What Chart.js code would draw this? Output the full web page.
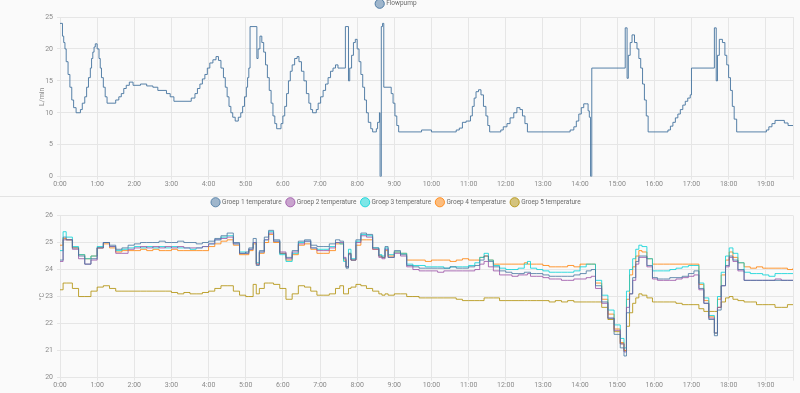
<!DOCTYPE html>
<html>
<head>
<meta charset="utf-8">
<script src="https://cdn.jsdelivr.net/npm/chart.js@4/dist/chart.umd.min.js"></script>
<style>
  html, body { margin: 0; padding: 0; background: #fafafa; }
  .box { width: 800px; position: relative; }
  #top { height: 196px; border-bottom: 1px solid #e3e3e3; }
  #bottom { height: 196px; }
</style>
</head>
<body>
<div class="box" id="top"><canvas id="pumpChart"></canvas></div>
<div class="box" id="bottom"><canvas id="tempChart"></canvas></div>
<script>
// time in minutes since 0:00
const pumpTimes = [0, 4, 6, 8, 10, 13, 16, 19, 22, 26, 33, 36, 40, 43, 46, 49, 51, 53, 55, 57, 60, 63, 65, 67, 70, 73, 76, 90, 95, 99, 103, 107, 112, 118, 130, 140, 150, 158, 172, 178, 184, 212, 218, 222, 226, 230, 234, 238, 242, 247, 252, 256, 260, 264, 267, 270, 273, 276, 279, 283, 288, 292, 295, 298, 301, 303, 305, 307, 318, 320, 323, 326, 329, 332, 335, 338, 341, 344, 347, 350, 357, 360, 363, 366, 369, 372, 375, 379, 383, 386, 390, 394, 398, 402, 405, 408, 414, 417, 421, 425, 429, 433, 437, 441, 445, 449, 461, 466, 468, 471, 474, 477, 480, 483, 486, 489, 492, 495, 498, 502, 505, 511, 513, 516, 517, 519, 521, 523, 535, 538, 541, 544, 547, 584, 600, 640, 645, 650, 656, 663, 666, 669, 672, 676, 680, 684, 688, 691, 694, 712, 716, 722, 727, 733, 738, 743, 747, 751, 755, 824, 830, 834, 838, 842, 846, 850, 853, 855, 857, 859, 913, 916, 918, 921, 924, 928, 932, 935, 938, 941, 944, 947, 950, 982, 986, 990, 994, 998, 1002, 1006, 1010, 1014, 1018, 1020, 1057, 1060, 1062, 1065, 1070, 1074, 1077, 1080, 1083, 1086, 1089, 1093, 1141, 1145, 1150, 1155, 1170, 1176, 1184];
const pumpValues = [24, 22, 21, 20, 18, 16, 14, 12, 10.8, 10, 10.5, 11.5, 12.5, 14, 15.5, 17, 18.5, 19.5, 20.3, 20.8, 20, 18.5, 17, 15.5, 14, 12.5, 11.5, 12, 12.5, 13, 13.8, 14.3, 14.8, 14.3, 14.5, 14.2, 14, 13.5, 13, 12.5, 11.8, 12.3, 13, 13.8, 14.5, 15.3, 16, 17, 17.8, 18.3, 18.8, 18.2, 17, 15.5, 14, 12.5, 11, 10, 9.3, 8.7, 9.3, 10, 11, 12.5, 14, 15.5, 17, 23.5, 18.5, 20, 22, 21, 19.5, 17.5, 15.5, 13.5, 11.5, 9.5, 8.3, 7.5, 8.3, 9.5, 11, 13, 15, 16.5, 17.5, 18.5, 18.8, 18, 16.5, 15, 13, 11.5, 10.5, 10, 10.5, 11.5, 12.5, 13.5, 14.5, 15.5, 16.5, 17, 17.5, 17, 23.5, 15, 17, 19, 21, 21.5, 20, 18, 16, 14, 12, 10, 8.5, 7.5, 7, 7.5, 8.5, 10, 0, 23.5, 24, 14, 13, 11.5, 9.5, 8, 7, 7.3, 7, 7.3, 7.6, 8.5, 8.7, 9.5, 11, 12.3, 13.3, 13.6, 12.8, 11, 9.5, 8, 7, 7.3, 7.8, 8.3, 9.2, 10, 10.8, 10.5, 9.5, 8.3, 7, 7.3, 7.8, 8.7, 9.8, 10.8, 11.4, 11.4, 10.3, 9.3, 0, 17, 23.3, 15.4, 19, 21, 22.2, 21, 20, 18.5, 17, 14.5, 12, 9.5, 7, 7.3, 7.9, 8.5, 9.2, 9.8, 10.5, 11.2, 11.8, 12.3, 12.8, 17, 23.3, 15, 19, 21.5, 21, 19, 17.5, 15.5, 13.5, 11, 9, 7, 7.3, 7.8, 8.3, 8.8, 8.4, 8, 8];

const tempTimes = [
  0, 5, 10, 20, 30, 40, 50, 60, 70, 80, 90, 100, 110, 120, 130, 140, 150, 160, 170, 180, 190, 200, 210, 220, 230, 240, 250, 260, 270, 280, 290, 300,
  305, 312, 317, 322, 330, 337, 345, 355, 365, 375, 385, 395, 405, 415, 425, 435, 445, 452, 458, 462, 466, 470, 478, 486, 495, 505, 515, 520, 525, 530, 540,
  550, 560, 570, 580, 590, 600, 610, 620, 630, 640, 650, 660, 670,
  678, 685, 692, 700, 710, 720, 730, 740, 750, 755, 760, 770, 780, 790, 800, 810, 820, 830, 840, 850,
  858, 865, 875, 885, 895, 905, 911, 915, 920, 925, 930, 935, 940, 948, 957,
  965, 975, 985, 995, 1005, 1015, 1024, 1032, 1040, 1048, 1057, 1062, 1068, 1075, 1081, 1087, 1095, 1105,
  1115, 1125, 1135, 1145, 1155, 1165, 1175, 1184
];
const groep1 = [
  24.35, 25.2, 25.1, 24.8, 24.5, 24.2, 24.4, 24.8, 25.0, 24.9, 24.75, 24.8, 24.9, 24.95, 25.0, 25.0, 25.0, 25.05, 25.0, 25.0, 25.05, 25.0, 25.0, 24.95, 25.0, 25.05, 25.15, 25.25, 25.35, 25.0, 24.6, 24.65,
  24.8, 25.15, 24.15, 24.7, 25.2, 25.45, 25.1, 24.6, 24.45, 24.7, 25.05, 25.1, 24.9, 24.85, 24.85, 24.95, 25.1, 25.05, 24.4, 24.05, 24.6, 24.35, 25.1, 25.35, 25.3, 24.8, 24.5, 24.45, 24.85, 24.45, 24.7,
  24.55, 24.15, 24.1, 24.05, 24.05, 24.05, 24.05, 24.05, 24.1, 24.05, 24.05, 24.1, 24.15,
  24.35, 24.5, 24.3, 24.1, 23.95, 23.9, 23.85, 23.85, 23.9, 23.9, 23.85, 23.85, 23.8, 23.75, 23.75, 23.75, 23.75, 23.8, 23.85, 23.95,
  24.0, 23.4, 22.8, 22.2, 21.6, 21.1, 20.8, 22.4, 23.1, 23.7, 24.3, 24.5, 24.5, 24.15, 23.7,
  23.65, 23.65, 23.7, 23.7, 23.75, 23.85, 23.95, 23.3, 22.75, 22.15, 21.55, 22.5, 23.4, 24.15, 24.5, 24.35, 24.0, 23.6,
  23.6, 23.6, 23.6, 23.6, 23.6, 23.6, 23.6, 23.6
];
const groep2 = [
  24.3, 25.1, 25.1, 24.75, 24.4, 24.2, 24.35, 24.8, 25.0, 24.85, 24.6, 24.6, 24.75, 24.8, 24.85, 24.8, 24.85, 24.8, 24.85, 24.8, 24.85, 24.8, 24.8, 24.8, 24.85, 24.95, 25.1, 25.15, 25.2, 24.95, 24.6, 24.6,
  24.75, 25.0, 24.2, 24.65, 25.1, 25.35, 25.05, 24.65, 24.4, 24.65, 24.95, 25.05, 24.8, 24.7, 24.7, 24.8, 25.0, 25.0, 24.45, 24.1, 24.55, 24.35, 25.0, 25.25, 25.2, 24.75, 24.45, 24.4, 24.75, 24.45, 24.6,
  24.5, 24.1, 24.0, 23.95, 23.95, 23.95, 23.9, 23.95, 23.95, 23.95, 23.95, 23.95, 24.0,
  24.2, 24.3, 24.1, 23.95, 23.8, 23.8, 23.75, 23.8, 23.8, 23.85, 23.75, 23.75, 23.7, 23.65, 23.65, 23.6, 23.6, 23.65, 23.65, 23.7,
  23.75, 23.3, 22.75, 22.2, 21.75, 21.25, 20.95, 22.6, 23.1, 23.6, 24.2, 24.45, 24.45, 24.1, 23.65,
  23.6, 23.6, 23.6, 23.65, 23.7, 23.75, 23.8, 23.25, 22.75, 22.2, 21.65, 22.6, 23.4, 24.1, 24.45, 24.3, 23.95, 23.6,
  23.6, 23.6, 23.6, 23.6, 23.65, 23.6, 23.6, 23.6
];
const groep3 = [
  24.7, 25.4, 25.2, 24.85, 24.55, 24.4, 24.5, 24.85, 25.0, 24.85, 24.7, 24.75, 24.8, 24.85, 24.8, 24.85, 24.8, 24.85, 24.8, 24.85, 24.8, 24.8, 24.75, 24.8, 24.85, 24.95, 25.1, 25.2, 25.25, 24.95, 24.65, 24.6,
  24.75, 25.0, 24.25, 24.65, 25.1, 25.4, 25.05, 24.55, 24.3, 24.6, 25.0, 25.05, 24.8, 24.75, 24.75, 24.85, 25.0, 24.95, 24.3, 24.1, 24.75, 24.4, 25.05, 25.3, 25.25, 24.8, 24.55, 24.5, 24.8, 24.55, 24.65,
  24.6, 24.2, 24.15, 24.15, 24.1, 24.1, 24.1, 24.05, 24.1, 24.1, 24.1, 24.15, 24.25,
  24.45, 24.6, 24.35, 24.15, 24.05, 24.0, 24.0, 24.05, 24.2, 24.3, 24.05, 24.0, 23.95, 23.9, 23.9, 23.9, 23.9, 23.95, 24.1, 24.2,
  24.2, 23.6, 23.05, 22.5, 21.95, 21.45, 21.1, 23.2, 24.0, 24.4, 24.75, 24.9, 24.85, 24.4, 23.95,
  23.95, 23.95, 24.0, 24.05, 24.1, 24.15, 24.15, 23.5, 22.95, 22.3, 21.65, 23.0, 23.9, 24.5, 24.8, 24.6, 24.25, 23.9,
  23.85, 23.85, 23.8, 23.75, 23.85, 23.85, 23.85, 23.85
];
const groep4 = [
  24.9, 25.15, 25.1, 24.8, 24.55, 24.4, 24.5, 24.8, 24.95, 24.8, 24.65, 24.7, 24.7, 24.7, 24.75, 24.7, 24.75, 24.7, 24.7, 24.75, 24.7, 24.7, 24.7, 24.7, 24.7, 24.85, 24.95, 25.05, 25.1, 24.9, 24.55, 24.55,
  24.7, 24.95, 24.2, 24.6, 25.0, 25.3, 25.0, 24.6, 24.35, 24.55, 24.9, 24.95, 24.75, 24.6, 24.6, 24.7, 24.95, 24.95, 24.35, 24.1, 24.6, 24.35, 24.9, 25.1, 25.1, 24.75, 24.5, 24.45, 24.7, 24.5, 24.65,
  24.6, 24.35, 24.35, 24.35, 24.3, 24.35, 24.35, 24.35, 24.3, 24.35, 24.4, 24.35, 24.35,
  24.45, 24.5, 24.35, 24.2, 24.2, 24.2, 24.2, 24.2, 24.25, 24.2, 24.2, 24.2, 24.15, 24.1, 24.1, 24.1, 24.15, 24.1, 24.2, 24.2,
  24.2, 23.5, 22.9, 22.35, 21.8, 21.3, 21.0, 22.9, 23.8, 24.1, 24.5, 24.7, 24.65, 24.4, 24.2,
  24.2, 24.2, 24.2, 24.2, 24.2, 24.2, 24.2, 23.45, 22.85, 22.25, 21.65, 22.9, 23.8, 24.35, 24.65, 24.45, 24.25, 24.1,
  24.05, 24.1, 24.05, 24.05, 24.05, 24.05, 24.0, 24.05
];
const groep5 = [
  23.25, 23.5, 23.5, 23.3, 23.0, 23.0, 23.2, 23.35, 23.4, 23.3, 23.2, 23.2, 23.2, 23.2, 23.2, 23.2, 23.2, 23.2, 23.2, 23.15, 23.1, 23.15, 23.1, 23.1, 23.15, 23.2, 23.3, 23.4, 23.4, 23.2, 23.05, 23.0,
  23.0, 23.45, 23.1, 23.3, 23.5, 23.5, 23.45, 23.3, 22.9, 23.1, 23.4, 23.35, 23.2, 23.05, 23.05, 23.1, 23.3, 23.4, 23.1, 23.1, 23.3, 23.35, 23.45, 23.4, 23.3, 23.2, 23.1, 23.05, 23.1, 23.05, 23.1,
  23.1, 23.0, 23.0, 22.95, 22.95, 22.95, 22.95, 22.95, 22.95, 22.9, 22.85, 22.85, 22.85,
  22.85, 22.95, 22.95, 22.95, 22.85, 22.85, 22.85, 22.85, 22.85, 22.85, 22.85, 22.85, 22.85, 22.8, 22.85, 22.8, 22.85, 22.8, 22.8, 22.8,
  22.8, 22.8, 22.6, 22.15, 21.7, 21.25, 21.0, 21.9, 22.4, 22.75, 22.95, 23.1, 23.05, 22.95, 22.8,
  22.8, 22.8, 22.8, 22.75, 22.7, 22.7, 22.7, 22.55, 22.45, 22.45, 22.45, 22.6, 22.8, 22.95, 23.0, 22.9, 22.85, 22.8,
  22.8, 22.7, 22.7, 22.7, 22.6, 22.6, 22.7, 22.7
];

const groepNames = ["Groep 1 temperature", "Groep 2 temperature", "Groep 3 temperature", "Groep 4 temperature", "Groep 5 temperature"];
const groepColors = ["#44739e", "#984ea3", "#00d2d5", "#ff7f00", "#af8d00"];
const pumpColor = "#44739e";

const tickFont = { family: "Roboto", size: 7 };
const tickColor = "#8a8a8a";
const gridColor = "#e6e6e6";

function pairs(times, values) {
    return times.map((t, i) => ({ x: t, y: values[i] }));
}

function xAxis() {
    return {
        type: "linear",
        min: 0,
        max: 1184,
        grid: { color: gridColor, tickLength: 3 },
        border: { color: gridColor },
        ticks: {
            stepSize: 60,
            autoSkip: false,
            maxRotation: 0,
            color: tickColor,
            font: tickFont,
            padding: 0,
            callback: v => (v % 60 === 0 ? (v / 60) + ":00" : "")
        }
    };
}

function yAxis(min, max, step, title) {
    return {
        min: min,
        max: max,
        grid: { color: gridColor, tickLength: 3 },
        border: { color: gridColor },
        ticks: { stepSize: step, color: tickColor, font: tickFont, padding: 4 },
        title: { display: true, text: title, color: tickColor, font: tickFont, padding: { top: 38, bottom: 0 } },
        afterFit: scale => { scale.width = 60; }
    };
}

function legendOpts() {
    return {
        position: "top",
        labels: {
            usePointStyle: true,
            pointStyle: "circle",
            boxWidth: 7,
            boxHeight: 7,
            padding: 5.5,
            color: "#6b6b6b",
            font: { family: "Roboto", size: 6.5 }
        }
    };
}

Chart.defaults.animation = false;

new Chart(document.getElementById("pumpChart"), {
    type: "line",
    data: {
        datasets: [{
            label: "Flowpump",
            data: pairs(pumpTimes, pumpValues),
            borderColor: pumpColor,
            backgroundColor: pumpColor + "7f",
            borderWidth: 0.9,
            pointRadius: 0,
            stepped: true
        }]
    },
    options: {
        responsive: true,
        maintainAspectRatio: false,
        layout: { padding: { left: 0, right: 7, top: -5, bottom: 8 } },
        plugins: { legend: legendOpts(), tooltip: { enabled: false } },
        scales: { x: xAxis(), y: yAxis(0, 25, 5, "L/min") }
    }
});

new Chart(document.getElementById("tempChart"), {
    type: "line",
    data: {
        datasets: [groep1, groep2, groep3, groep4, groep5].map((vals, i) => ({
            label: groepNames[i],
            data: pairs(tempTimes, vals),
            borderColor: groepColors[i],
            backgroundColor: groepColors[i] + "7f",
            borderWidth: 0.8,
            pointRadius: 0,
            stepped: true
        }))
    },
    options: {
        responsive: true,
        maintainAspectRatio: false,
        layout: { padding: { left: 0, right: 7, top: -3.5, bottom: 4 } },
        plugins: { legend: legendOpts(), tooltip: { enabled: false } },
        scales: { x: xAxis(), y: yAxis(20, 26, 1, "°C") }
    }
});
</script>
</body>
</html>
